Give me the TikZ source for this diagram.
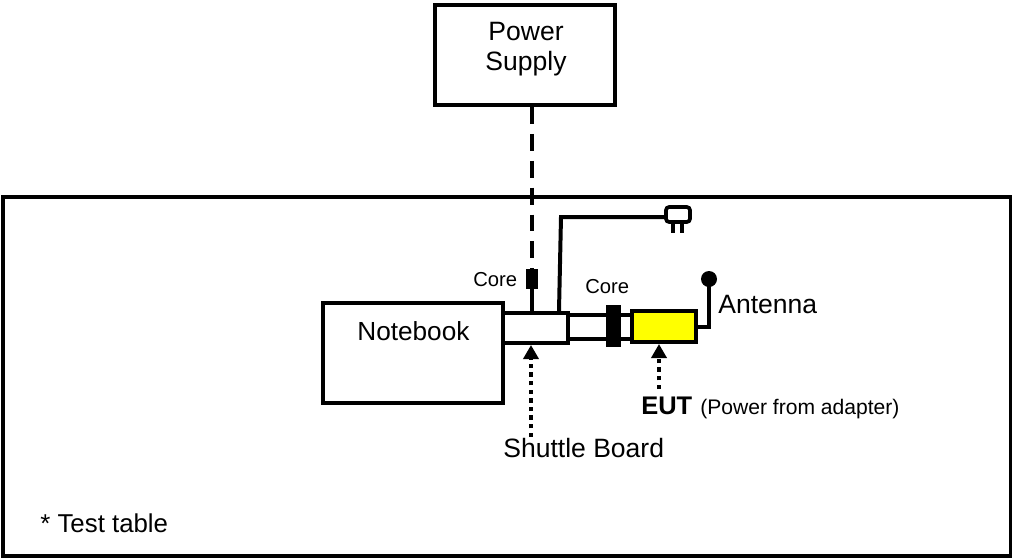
\documentclass[tikz,border=0pt]{standalone}
\usepackage{fontspec}
\setmainfont{Liberation Sans}
\usetikzlibrary{arrows.meta}
\definecolor{eutyellow}{RGB}{255,255,0}
\tikzset{
  box/.style={draw, line width=2.27pt, fill=white, inner sep=0pt, outer sep=0.04cm},
  corebox/.style={draw=none, fill=black, inner sep=0pt, outer sep=0pt},
  wire/.style={line width=2.27pt},
  thinwire/.style={line width=1.9pt},
  pointer/.style={line width=2.27pt, dash pattern=on 2.5pt off 2.4pt, -{Triangle[length=0.28cm, width=0.3cm]}},
  lbl/.style={inner sep=0pt, anchor=base west, font=\fontsize{15.1}{17}\selectfont},
  smalllbl/.style={inner sep=0pt, anchor=base west, font=\fontsize{11.5}{13}\selectfont}
}
\begin{document}
\begin{tikzpicture}[x=0.02cm, y=-0.02cm]
\useasboundingbox (0,0) rectangle (1012,559);
\node[box, minimum width=20.16cm, minimum height=7.18cm] (table) at (507,376.5) {};
\node[box, minimum width=3.6cm, minimum height=2cm] (power) at (525,55) {};
\node[inner sep=0pt, align=center, font=\fontsize{15.1}{17}\selectfont] (powerlbl) at (526,49.5) {Power\\Supply};
\node[box, minimum width=3.6cm, minimum height=2cm] (notebook) at (413,353) {};
\node[box, minimum width=1.3cm, minimum height=0.6cm] (shuttle) at (535.5,328) {};
\node[box, fill=eutyellow, minimum width=1.28cm, minimum height=0.62cm] (eut) at (664,326.5) {};
\node[corebox, minimum width=0.24cm, minimum height=0.4cm] (corea) at (532,279) {};
\node[corebox, minimum width=0.3cm, minimum height=0.84cm] (coreb) at (613.5,326) {};
\node[box, rounded corners=1.8pt, minimum width=0.48cm, minimum height=0.3cm, line width=2.1pt] (plug) at (678,214.5) {};
\node[circle, fill=black, inner sep=0pt, minimum size=0.32cm] (antdot) at (709,279) {};
\coordinate (wirefoot) at (559,311);
\coordinate (wirebend) at (561,217);
\coordinate (plugin) at (665,217);
\coordinate (cabletopa) at (570,315);
\coordinate (cabletopb) at (630,315);
\coordinate (cablebota) at (570,339);
\coordinate (cablebotb) at (630,339);
\coordinate (prongaa) at (673,224);
\coordinate (prongab) at (673,233);
\coordinate (prongba) at (682,224);
\coordinate (prongbb) at (682,233);
\coordinate (shuttleend) at (531,437);
\coordinate (eutend) at (659,389);
\draw[wire, dash pattern=on 9.6pt off 5.7pt] (corea |- power.south) to (corea.north);
\draw[wire] (corea.south) to (corea |- shuttle.north);
\draw[wire] (wirefoot) to (wirebend) to (plugin);
\draw[thinwire] (prongaa) to (prongab);
\draw[thinwire] (prongba) to (prongbb);
\draw[wire] (cabletopa) to (cabletopb);
\draw[wire] (cablebota) to (cablebotb);
\node[corebox, minimum width=0.3cm, minimum height=0.84cm] at (coreb) {};
\draw[wire] (eut.east) -| (antdot.center);
\draw[pointer] (shuttleend) to (shuttleend |- shuttle.south);
\draw[pointer] (eutend) to (eutend |- eut.south);
\node[lbl, font=\fontsize{14.9}{17}\selectfont] (notebooklbl) at (357,340) {Notebook};
\node[smalllbl] (corealbl) at (473,286) {Core};
\node[smalllbl] (coreblbl) at (585,293) {Core};
\node[lbl] (antlbl) at (718,313) {Antenna};
\node[lbl, font=\fontsize{14.5}{17}\selectfont\bfseries] (eutlbl) at (641,414) {EUT};
\node[inner sep=0pt, anchor=base west, font=\fontsize{12}{14}\selectfont] (adapterlbl) at (700,414) {(Power from adapter)};
\node[lbl] (shuttlelbl) at (503,457) {Shuttle Board};
\node[lbl, font=\fontsize{14.7}{17}\selectfont] (tablelbl) at (40,532) {* Test table};
\end{tikzpicture}
\end{document}
